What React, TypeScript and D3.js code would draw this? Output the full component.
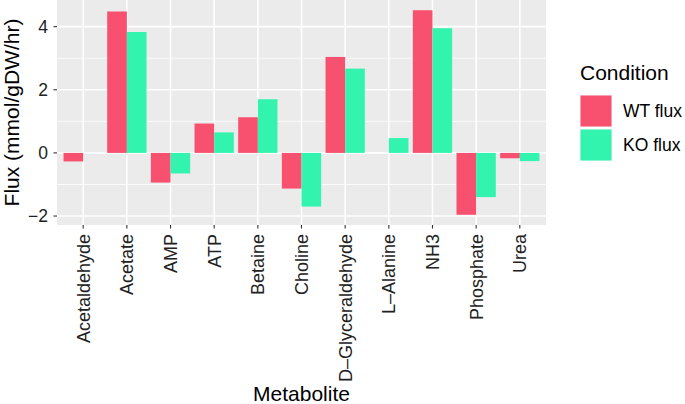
import { useEffect, useRef } from 'react';
import * as d3 from 'd3';

const metabolites = [
  'Acetaldehyde', 'Acetate', 'AMP', 'ATP', 'Betaine', 'Choline',
  'D\u2013Glyceraldehyde', 'L\u2013Alanine', 'NH3', 'Phosphate', 'Urea',
];
const wtFlux = [-0.27, 4.48, -0.94, 0.93, 1.13, -1.13, 3.04, 0.0, 4.52, -1.96, -0.17];
const koFlux = [0.0, 3.83, -0.65, 0.65, 1.7, -1.7, 2.67, 0.47, 3.95, -1.4, -0.26];
const conditions = ['WT flux', 'KO flux'];
const colors = ['#F8506F', '#33F4AF'];
const yTicks = [-2, 0, 2, 4];
const yMinor = [-1, 1, 3];

const W = 685;
const H = 404;
const FONT = '"Liberation Sans", Arial, Helvetica, sans-serif';

export default function App() {
  const svgRef = useRef<SVGSVGElement>(null);

  useEffect(() => {
    document.body.style.margin = '0';
    if (!svgRef.current) return;
    const svg = d3.select(svgRef.current);
    svg.selectAll('*').remove();

    const panel = { left: 57, right: 546, top: 0, bottom: 225 };

    // ggplot-like 5% expansion of the data range
    const all = [...wtFlux, ...koFlux];
    const lo = d3.min(all) || 0;
    const hi = d3.max(all) || 0;
    const pad = (hi - lo) * 0.05;
    const y = d3.scaleLinear().domain([lo - pad, hi + pad]).range([panel.bottom, panel.top]);

    // discrete axis, 0.6 units of expansion on each side
    const x = d3.scalePoint<string>()
      .domain(metabolites)
      .range([panel.left, panel.right])
      .padding(0.6);
    const step = x.step();
    const barW = step * 0.45;
    const cx = (d: string) => x(d) || 0;

    svg.append('rect')
      .attr('x', panel.left).attr('y', panel.top)
      .attr('width', panel.right - panel.left).attr('height', panel.bottom - panel.top)
      .attr('fill', '#EBEBEB');

    const grid = svg.append('g').attr('stroke', '#fff').attr('fill', 'none');
    grid.selectAll('.minor').data(yMinor).join('line')
      .attr('x1', panel.left).attr('x2', panel.right)
      .attr('y1', d => y(d)).attr('y2', d => y(d))
      .attr('stroke-width', 0.8);
    grid.selectAll('.major').data(yTicks).join('line')
      .attr('x1', panel.left).attr('x2', panel.right)
      .attr('y1', d => y(d)).attr('y2', d => y(d))
      .attr('stroke-width', 1.6);
    grid.selectAll('.vmajor').data(metabolites).join('line')
      .attr('y1', panel.top).attr('y2', panel.bottom)
      .attr('x1', cx).attr('x2', cx)
      .attr('stroke-width', 1.6);

    const series = [wtFlux, koFlux];
    series.forEach((vals, si) => {
      svg.append('g').selectAll('rect').data(vals).join('rect')
        .attr('x', (_, i) => cx(metabolites[i]) - barW + si * barW)
        .attr('width', barW)
        .attr('y', d => y(Math.max(0, d)))
        .attr('height', d => Math.abs(y(d) - y(0)))
        .attr('fill', colors[si]);
    });

    // y axis
    const ya = svg.append('g');
    ya.selectAll('line').data(yTicks).join('line')
      .attr('x1', panel.left - 3.5).attr('x2', panel.left)
      .attr('y1', d => y(d)).attr('y2', d => y(d))
      .attr('stroke', '#333').attr('stroke-width', 1.1);
    ya.selectAll('text').data(yTicks).join('text')
      .attr('x', panel.left - 9).attr('y', d => y(d))
      .attr('dy', '0.36em')
      .attr('text-anchor', 'end')
      .attr('font-family', FONT).attr('font-size', 17.5)
      .attr('fill', '#222')
      .text(d => String(d).replace('-', '\u2212'));

    // x axis
    const xa = svg.append('g');
    xa.selectAll('line').data(metabolites).join('line')
      .attr('x1', cx).attr('x2', cx)
      .attr('y1', panel.bottom).attr('y2', panel.bottom + 3.5)
      .attr('stroke', '#333').attr('stroke-width', 1.1);
    xa.selectAll('text').data(metabolites).join('text')
      .attr('transform', d => `translate(${cx(d)},${panel.bottom + 9}) rotate(-90)`)
      .attr('dy', '0.36em')
      .attr('text-anchor', 'end')
      .attr('font-family', FONT).attr('font-size', 18)
      .attr('fill', '#222')
      .text(d => d);

    // axis titles
    svg.append('text')
      .attr('x', (panel.left + panel.right) / 2).attr('y', 401)
      .attr('text-anchor', 'middle')
      .attr('font-family', FONT).attr('font-size', 21)
      .text('Metabolite');
    svg.append('text')
      .attr('transform', `translate(19,${(panel.top + panel.bottom) / 2}) rotate(-90)`)
      .attr('text-anchor', 'middle')
      .attr('font-family', FONT).attr('font-size', 21)
      .text('Flux (mmol/gDW/hr)');

    // legend
    const lg = svg.append('g').attr('transform', 'translate(580,0)');
    lg.append('text')
      .attr('x', 0).attr('y', 80)
      .attr('font-family', FONT).attr('font-size', 21)
      .text('Condition');
    conditions.forEach((c, i) => {
      const top = 95 + i * 34;
      lg.append('rect')
        .attr('x', 0).attr('y', top).attr('width', 32).attr('height', 32)
        .attr('fill', '#F2F2F2');
      lg.append('rect')
        .attr('x', 0.5).attr('y', top + 0.5).attr('width', 31).attr('height', 31)
        .attr('fill', colors[i]);
      lg.append('text')
        .attr('x', 43).attr('y', top + 16).attr('dy', '0.36em')
        .attr('font-family', FONT).attr('font-size', 17.5)
        .text(c);
    });
  }, []);

  return <svg ref={svgRef} width={W} height={H} style={{ display: 'block', background: '#fff' }} />;
}
